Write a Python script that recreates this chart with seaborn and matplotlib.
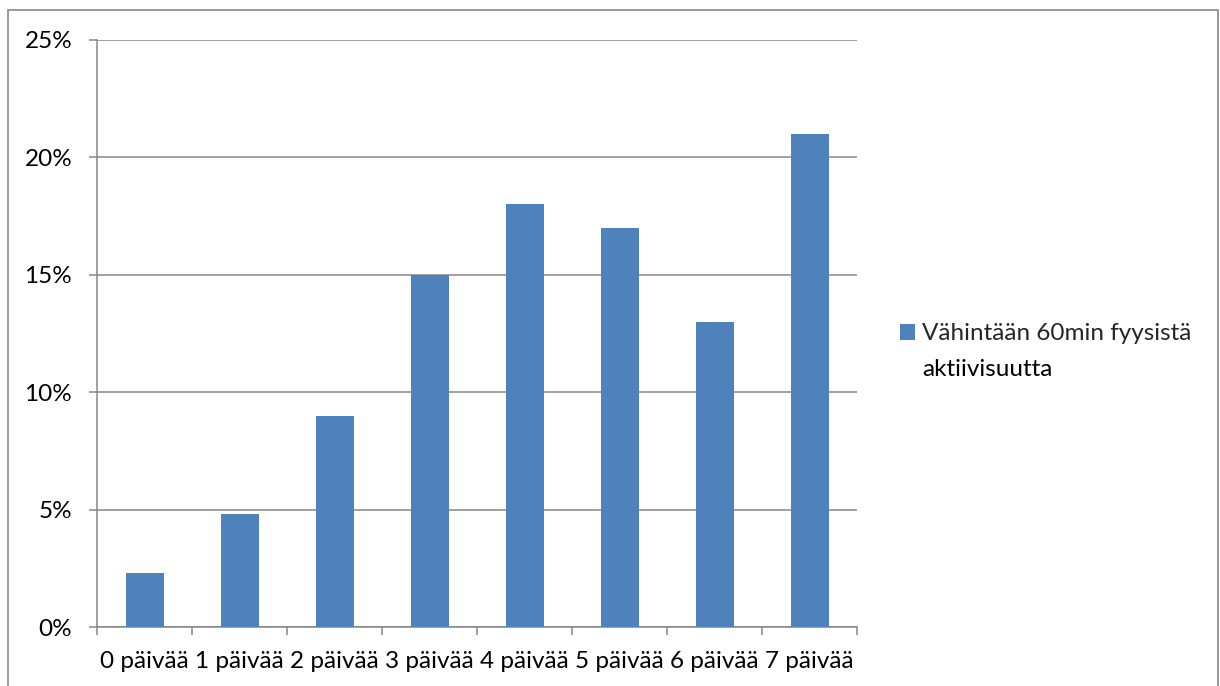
import matplotlib
matplotlib.use("Agg")
import matplotlib.pyplot as plt
import matplotlib.patches as mpatches
from matplotlib.ticker import FuncFormatter, FixedLocator
import seaborn as sns
import pandas as pd

# Share of pupils by number of days with at least 60 min of physical activity
days = ["0 päivää", "1 päivää", "2 päivää", "3 päivää",
        "4 päivää", "5 päivää", "6 päivää", "7 päivää"]
shares = [2.3, 4.8, 9.0, 15.0, 18.0, 17.0, 13.0, 21.0]
series_lines = ["Vähintään 60min fyysistä", "aktiivisuutta"]
y_ticks = [0, 5, 10, 15, 20, 25]

bar_color = "#4F81BD"
axis_grey = "#868686"
font_size = 17.5

sns.set_theme(style="white")
plt.rcParams["font.family"] = ["Lato", "DejaVu Sans"]

df = pd.DataFrame({"day": days, "share": shares})

fig = plt.figure(figsize=(12.2, 6.86), dpi=100)
ax = fig.add_axes([97 / 1220, 1 - 627 / 686, (857 - 97) / 1220, (627 - 40) / 686])

sns.barplot(data=df, x="day", y="share", color=bar_color, width=0.4,
            saturation=1, ax=ax, zorder=3, edgecolor="none")

ax.set_xlim(-0.5, len(days) - 0.5)
ax.set_ylim(0, 25)
ax.yaxis.set_major_locator(FixedLocator(y_ticks))
ax.yaxis.set_major_formatter(FuncFormatter(lambda v, _: f"{v:.0f}%"))
ax.set_xlabel("")
ax.set_ylabel("")

# Horizontal gridlines
ax.grid(axis="y", color=axis_grey, linewidth=1.1, zorder=0)
ax.grid(axis="x", visible=False)

for side in ["top", "right"]:
    ax.spines[side].set_visible(False)
for side in ["left", "bottom"]:
    ax.spines[side].set_color(axis_grey)
    ax.spines[side].set_linewidth(1.1)

# Y ticks extend the gridlines outward; X ticks sit between categories
ax.tick_params(axis="y", which="major", direction="out", length=5.8, width=1.1,
               color=axis_grey, labelsize=font_size, pad=12, labelcolor="black", left=True)
ax.set_xticks(range(len(days)))
ax.set_xticklabels(days)
ax.set_xticks([i - 0.5 for i in range(len(days) + 1)], minor=True)
ax.tick_params(axis="x", which="major", length=0, labelsize=font_size, pad=17,
               labelcolor="black")
ax.tick_params(axis="x", which="minor", direction="out", length=5.8, width=1.1,
               color=axis_grey, bottom=True)

# Legend: first line beside the swatch, continuation line beneath it
handle = mpatches.Patch(facecolor=bar_color, edgecolor="none", label=series_lines[0])
leg = fig.legend(handles=[handle], loc="center left",
                 bbox_to_anchor=(900 / 1220, 1 - 334 / 686),
                 frameon=False, fontsize=font_size, handlelength=0.62, handleheight=0.62,
                 handletextpad=0.3, borderaxespad=0, borderpad=0)
fig.canvas.draw()
first = leg.get_texts()[0]
bb = first.get_window_extent().transformed(fig.transFigure.inverted())
fig.text(bb.x0, bb.y0 - 35 / 686 + (bb.y1 - bb.y0) / 2, series_lines[1],
         fontsize=font_size, va="center", ha="left", color="black")

# Outer chart border
border = mpatches.Rectangle((8 / 1220, -0.05), (1218 - 8) / 1220, 1.05 - 10 / 686,
                            transform=fig.transFigure, fill=False,
                            edgecolor="#898989", linewidth=1.2)
fig.patches.append(border)

fig.savefig("out.png", dpi=100)
